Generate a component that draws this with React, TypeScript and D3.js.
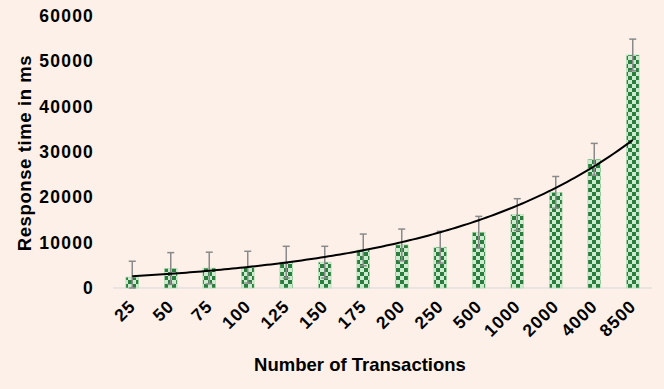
import React, { useEffect, useRef } from 'react';
import * as d3 from 'd3';

const categories = ['25', '50', '75', '100', '125', '150', '175', '200', '250', '500', '1000', '2000', '4000', '8500'];
const responseTimes = [2400, 4300, 4400, 4600, 5700, 5700, 8400, 9500, 9000, 12300, 16200, 21100, 28400, 51400];
const errorAmount = 3500;
const yTicks = [0, 10000, 20000, 30000, 40000, 50000, 60000];

const W = 664;
const H = 389;

const App = () => {
  const svgRef = useRef<SVGSVGElement>(null);

  useEffect(() => {
    const svg = d3.select(svgRef.current);
    svg.selectAll('*').remove();

    const margin = { top: 16, right: 12, bottom: 101, left: 113 };
    const x = d3.scaleBand<string>()
      .domain(categories)
      .range([margin.left, W - margin.right])
      .padding(0);
    const y = d3.scaleLinear()
      .domain([0, 60000])
      .range([H - margin.bottom, margin.top]);

    svg.append('rect').attr('width', W).attr('height', H).attr('fill', '#fcf0e8');

    const defs = svg.append('defs');
    const pat = defs.append('pattern')
      .attr('id', 'checker')
      .attr('width', 8)
      .attr('height', 8)
      .attr('patternUnits', 'userSpaceOnUse');
    pat.append('rect').attr('width', 8).attr('height', 8).attr('fill', '#ccebcf');
    pat.append('rect').attr('width', 4).attr('height', 4).attr('fill', '#2b7d3e');
    pat.append('rect').attr('x', 4).attr('y', 4).attr('width', 4).attr('height', 4).attr('fill', '#2b7d3e');

    const font = "'Liberation Sans', Arial, sans-serif";

    // baseline
    svg.append('line')
      .attr('x1', margin.left).attr('x2', W - margin.right)
      .attr('y1', y(0)).attr('y2', y(0))
      .attr('stroke', '#d9d9d9').attr('stroke-width', 1);

    const barW = x.bandwidth() * 0.33;
    const cx = (c: string) => (x(c) as number) + x.bandwidth() / 2;

    svg.append('g')
      .selectAll('rect')
      .data(responseTimes)
      .join('rect')
      .attr('x', (_, i) => cx(categories[i]) - barW / 2)
      .attr('y', d => y(d))
      .attr('width', barW)
      .attr('height', d => y(0) - y(d))
      .attr('fill', 'url(#checker)')
      .attr('stroke', '#a8dcae')
      .attr('stroke-width', 0.6);

    // error bars
    const eb = svg.append('g').attr('stroke', '#8a8a8a').attr('stroke-width', 1.5);
    responseTimes.forEach((v, i) => {
      const c = cx(categories[i]);
      const lo = Math.max(0, v - errorAmount);
      const hi = v + errorAmount;
      eb.append('line').attr('x1', c).attr('x2', c).attr('y1', y(lo)).attr('y2', y(hi));
      eb.append('line').attr('x1', c - 3.5).attr('x2', c + 3.5).attr('y1', y(hi)).attr('y2', y(hi));
      eb.append('line').attr('x1', c - 3.5).attr('x2', c + 3.5).attr('y1', y(lo)).attr('y2', y(lo));
    });

    // exponential trendline (least squares on ln y, x = 1..n)
    const n = responseTimes.length;
    const xs = d3.range(1, n + 1);
    const ls = responseTimes.map(v => Math.log(v));
    const mx = d3.mean(xs) as number;
    const ml = d3.mean(ls) as number;
    const b = d3.sum(xs, (xi, i) => (xi - mx) * (ls[i] - ml)) / d3.sum(xs, xi => (xi - mx) ** 2);
    const a = Math.exp(ml - b * mx);
    const xIdx = d3.scaleLinear().domain([1, n]).range([cx(categories[0]), cx(categories[n - 1])]);
    const pts = d3.range(1, n + 0.001, 0.1).map(t => [xIdx(t), y(a * Math.exp(b * t))] as [number, number]);
    svg.append('path')
      .attr('d', d3.line()(pts))
      .attr('fill', 'none')
      .attr('stroke', '#000')
      .attr('stroke-width', 2);

    // y axis labels
    svg.append('g')
      .selectAll('text')
      .data(yTicks)
      .join('text')
      .attr('x', 94)
      .attr('y', d => y(d))
      .attr('dy', '0.35em')
      .attr('text-anchor', 'end')
      .attr('font-family', font)
      .attr('font-weight', 'bold')
      .attr('font-size', 17.5)
      .attr('letter-spacing', 1.2)
      .attr('fill', '#000')
      .text(d => d);

    // x axis labels
    svg.append('g')
      .selectAll('text')
      .data(categories)
      .join('text')
      .attr('transform', d => `translate(${cx(d)},${y(0) + 15}) rotate(-45)`)
      .attr('dy', '0.35em')
      .attr('text-anchor', 'end')
      .attr('font-family', font)
      .attr('font-weight', 'bold')
      .attr('font-size', 17.5)
      .attr('letter-spacing', 1)
      .attr('fill', '#000')
      .text(d => d);

    svg.append('text')
      .attr('x', 360)
      .attr('y', 371)
      .attr('text-anchor', 'middle')
      .attr('font-family', font)
      .attr('font-weight', 'bold')
      .attr('font-size', 18.5)
      .attr('fill', '#000')
      .text('Number of Transactions');

    svg.append('text')
      .attr('transform', `translate(31,153) rotate(-90)`)
      .attr('text-anchor', 'middle')
      .attr('font-family', font)
      .attr('font-weight', 'bold')
      .attr('font-size', 18.5)
      .attr('letter-spacing', 0.6)
      .attr('fill', '#000')
      .text('Response time in ms');
  }, []);

  return (
    <svg
      ref={svgRef}
      width={W}
      height={H}
      style={{ position: 'absolute', left: 0, top: 0, display: 'block' }}
    />
  );
};

export default App;
